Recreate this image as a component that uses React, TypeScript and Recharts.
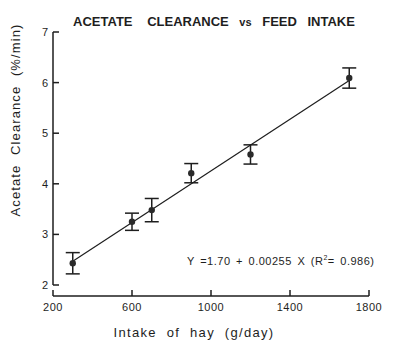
import { ComposedChart, Scatter, Line, ErrorBar, XAxis, YAxis, ReferenceLine } from "recharts";

const intake = [300, 600, 700, 900, 1200, 1700];
const clearance = [2.43, 3.25, 3.48, 4.21, 4.58, 6.09];
const sem = [0.21, 0.17, 0.23, 0.19, 0.19, 0.2];

const fitIntake = [300, 1700];
const fitClearance = [2.47, 6.04];

const xTicks = [200, 600, 1000, 1400, 1800];
const yTicks = [2, 3, 4, 5, 6, 7];

const points = intake.map((x, i) => ({ x, y: clearance[i], err: sem[i] }));
const fit = fitIntake.map((x, i) => ({ x, fit: fitClearance[i] }));

const font = "'Liberation Sans', Arial, sans-serif";
const ink = "#1e1e1e";

const YTick = (props: any) => {
    const { x, y, payload } = props;
    return (
        <g>
            <line x1={x} y1={y} x2={x + 6} y2={y} stroke={ink} strokeWidth={1.5} />
            <text x={x - 5} y={y + 4} textAnchor="end" fontSize={11} fontFamily={font} fill={ink}>
                {payload.value}
            </text>
        </g>
    );
};

const XTick = (props: any) => {
    const { x, y, payload } = props;
    return (
        <g>
            <line x1={x} y1={y} x2={x} y2={y - 6} stroke={ink} strokeWidth={1.5} />
            <text x={x} y={y + 15} textAnchor="middle" fontSize={11} fontFamily={font} fill={ink}
                letterSpacing={0.5}>
                {payload.value}
            </text>
        </g>
    );
};

const Dot = (props: any) => {
    const { cx, cy } = props;
    return <circle cx={cx} cy={cy} r={3.2} fill="#2a2a2a" />;
};

export default function App() {
    return (
        <div style={{ position: "absolute", left: 0, top: 0, width: 400, height: 344, background: "#fff" }}>
            <div style={{
                position: "absolute", left: 0, top: 14, width: 428, textAlign: "center",
                fontFamily: font, fontWeight: "bold", fontSize: 13, color: ink, wordSpacing: 7,
                whiteSpace: "pre", lineHeight: "16px"
            }}>
                <span style={{ marginRight: 4 }}>ACETATE</span>{" CLEARANCE "}
                <span style={{ fontSize: 11 }}>vs</span>{" FEED INTAKE"}
            </div>
            <div style={{
                position: "absolute", left: 187, top: 251, fontFamily: font, fontSize: 11,
                color: ink, letterSpacing: 0.5, wordSpacing: 2, whiteSpace: "pre", lineHeight: "14px"
            }}>
                Y =1.70 + 0.00255 X (R<sup style={{ fontSize: 7 }}>2</sup>= 0.986)
            </div>
            <ComposedChart width={400} height={344} margin={{ top: 32, right: 31, bottom: 0, left: 0 }}>
                <XAxis
                    type="number"
                    dataKey="x"
                    domain={[200, 1800]}
                    ticks={xTicks}
                    height={48}
                    stroke={ink}
                    strokeWidth={1.5}
                    tickLine={false}
                    tickSize={0}
                    tickMargin={0}
                    tick={<XTick />}
                    interval={0}
                    label={{
                        content: () => (
                            <text x={194} y={337} textAnchor="middle" fontSize={13} fontFamily={font}
                                fill={ink} letterSpacing={1.3} wordSpacing={5}>
                                Intake of hay (g/day)
                            </text>
                        )
                    }}
                />
                <YAxis
                    type="number"
                    domain={[2, 7]}
                    ticks={yTicks}
                    width={53}
                    padding={{ top: 0, bottom: 11 }}
                    axisLine={false}
                    tickLine={false}
                    tickSize={0}
                    tickMargin={0}
                    tick={<YTick />}
                    interval={0}
                    label={{
                        content: () => (
                            <text x={20} y={120} transform="rotate(-90 20 120)" textAnchor="middle"
                                fontSize={13} fontFamily={font} fill={ink} letterSpacing={1.1} wordSpacing={5}>
                                Acetate Clearance (%/min)
                            </text>
                        )
                    }}
                />
                <ReferenceLine segment={[{ x: 200, y: 2 }, { x: 200, y: 7 }]} stroke={ink} strokeWidth={1.5} />
                <Line data={fit} dataKey="fit" stroke={ink} strokeWidth={1.2} dot={false}
                    isAnimationActive={false} />
                <Scatter data={points} dataKey="y" shape={<Dot />} isAnimationActive={false}>
                    <ErrorBar dataKey="err" direction="y" width={7} stroke={ink} strokeWidth={1.5}
                        isAnimationActive={false} />
                </Scatter>
            </ComposedChart>
        </div>
    );
}
